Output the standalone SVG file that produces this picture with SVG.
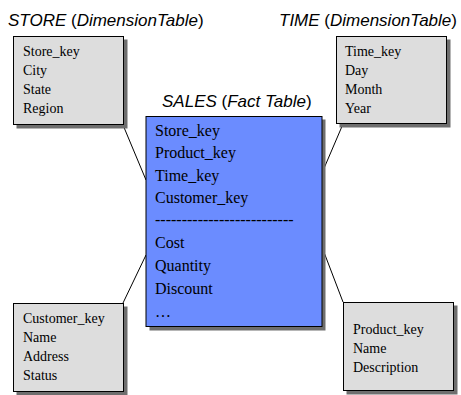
<svg xmlns="http://www.w3.org/2000/svg" width="461" height="395" viewBox="0 0 461 395">
<defs>
<style>
.title{font-family:"Liberation Sans",Arial,sans-serif;font-size:17px;fill:#000}
.it{font-style:italic}
.dim{fill:#dddddd;stroke:#000;stroke-width:1}
.fact{fill:#6b8cff;stroke:#000;stroke-width:1}
.shadow{fill:#6e6e6e}
.f{font-family:"Liberation Serif","Times New Roman",serif;fill:#000}
.s{font-size:14px}
.l{font-size:16px}
.conn{stroke:#000;stroke-width:1;fill:none}
</style>
</defs>
<rect width="461" height="395" fill="#fff"/>
<g id="connectors">
<line class="conn" x1="123" y1="125" x2="146" y2="180"/>
<line class="conn" x1="343" y1="124" x2="322" y2="173"/>
<line class="conn" x1="123" y1="303" x2="146" y2="255"/>
<line class="conn" x1="343" y1="302" x2="322" y2="247"/>
</g>
<g id="store">
<text class="title" x="8" y="26"><tspan class="it">STORE</tspan> (<tspan class="it">DimensionTable</tspan>)</text>
<rect class="shadow" x="16.5" y="39.5" width="111" height="89"/>
<rect class="dim" x="13.5" y="36.5" width="110" height="88"/>
<text class="f s" x="23" y="56">Store_key</text>
<text class="f s" x="23" y="75">City</text>
<text class="f s" x="23" y="94">State</text>
<text class="f s" x="23" y="113">Region</text>
</g>
<g id="time">
<text class="title" x="279" y="26"><tspan class="it">TIME</tspan> (<tspan class="it">DimensionTable</tspan>)</text>
<rect class="shadow" x="339.5" y="39.5" width="111" height="88"/>
<rect class="dim" x="336.5" y="36.5" width="110" height="87"/>
<text class="f s" x="345" y="56">Time_key</text>
<text class="f s" x="345" y="75">Day</text>
<text class="f s" x="345" y="94">Month</text>
<text class="f s" x="345" y="113">Year</text>
</g>
<g id="sales">
<text class="title" x="162" y="107"><tspan class="it">SALES</tspan> (<tspan class="it">Fact Table</tspan>)</text>
<rect class="shadow" x="149.5" y="119.5" width="176" height="211"/>
<rect class="fact" x="146" y="116.5" width="176" height="210"/>
<text class="f l" x="155" y="136">Store_key</text>
<text class="f l" x="155" y="158">Product_key</text>
<text class="f l" x="155" y="181">Time_key</text>
<text class="f l" x="155" y="203">Customer_key</text>
<text class="f l" x="155" y="225">--------------------------</text>
<text class="f l" x="155" y="248">Cost</text>
<text class="f l" x="155" y="271">Quantity</text>
<text class="f l" x="155" y="294">Discount</text>
<text class="f l" x="155" y="317">…</text>
</g>
<g id="customer">
<rect class="shadow" x="16.5" y="306.5" width="111" height="89"/>
<rect class="dim" x="13.5" y="303.5" width="110" height="88"/>
<text class="f s" x="23" y="323">Customer_key</text>
<text class="f s" x="23" y="342">Name</text>
<text class="f s" x="23" y="361">Address</text>
<text class="f s" x="23" y="380">Status</text>
</g>
<g id="product">
<rect class="shadow" x="346.5" y="305.5" width="111" height="89"/>
<rect class="dim" x="343.5" y="302.5" width="110" height="88"/>
<text class="f s" x="353" y="334">Product_key</text>
<text class="f s" x="353" y="353">Name</text>
<text class="f s" x="353" y="372">Description</text>
</g>
</svg>
